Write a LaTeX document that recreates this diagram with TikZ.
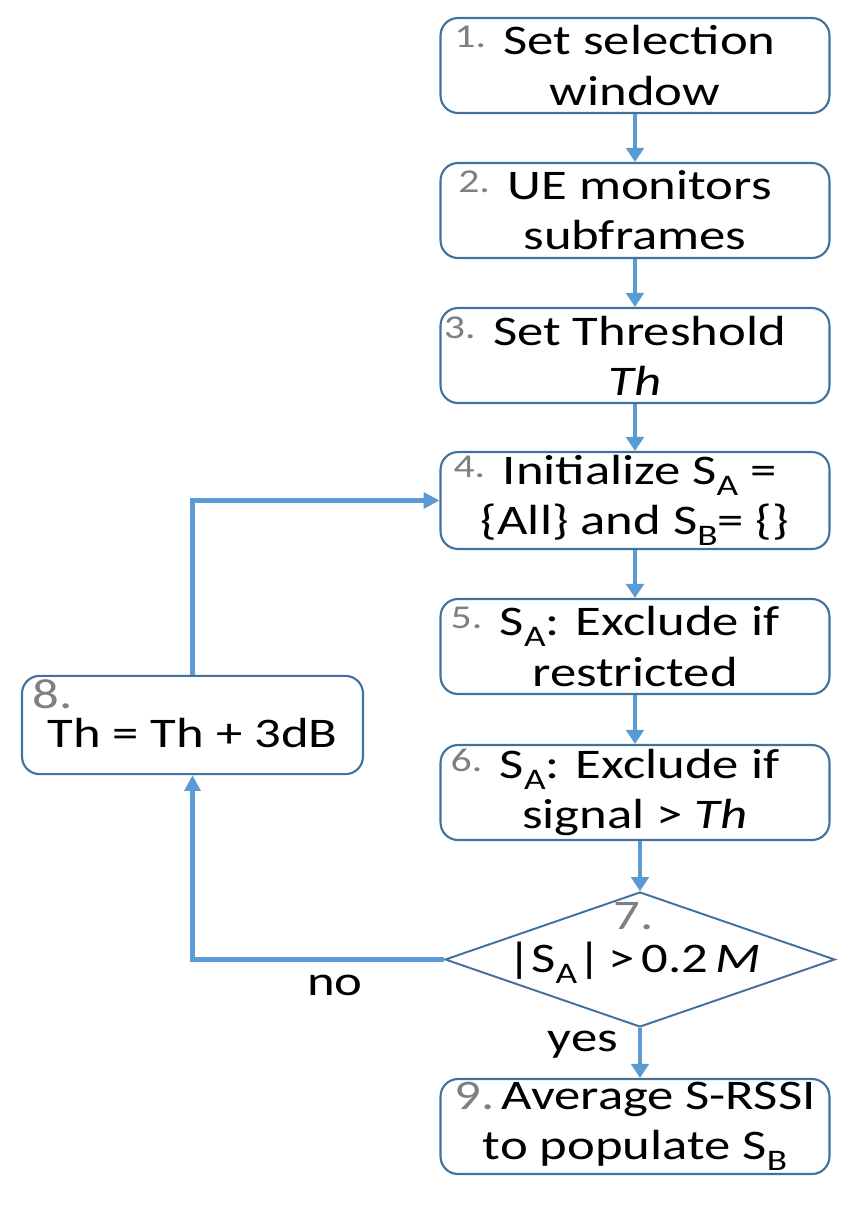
\documentclass[tikz,border=0pt]{standalone}
\usepackage{fontspec}
\setmainfont{Carlito}[FakeStretch=1.25]
\usetikzlibrary{arrows.meta,shapes.geometric}

\definecolor{boxblue}{HTML}{41719C}
\definecolor{arrowblue}{HTML}{5B9BD5}
\definecolor{numgray}{HTML}{7F7F7F}

\newcommand{\smallnum}[1]{\hspace*{-0.8cm}\raisebox{4pt}{\color{numgray}\fontsize{19}{19}\selectfont #1}\hspace{10pt}}
\newcommand{\bignum}[1]{{\color{numgray}#1}}
\newcommand{\sub}[1]{\raisebox{-6pt}{\fontsize{17}{17}\selectfont #1}}

\tikzset{
  flowbox/.style={draw=boxblue, line width=1.2pt, rounded corners=0.35cm,
    minimum width=7.78cm, minimum height=1.9cm, align=center, inner sep=2pt},
  decision/.style={draw=boxblue, line width=1.1pt, diamond,
    minimum width=7.8cm, minimum height=2.7cm, inner sep=0pt},
  flowarrow/.style={draw=arrowblue, line width=2.3pt,
    -{Triangle[width=10pt,length=8pt]}},
  loopline/.style={draw=arrowblue, line width=3pt,
    -{Triangle[width=9pt,length=9pt]}}
}

\begin{document}
\begin{tikzpicture}[x=0.02cm, y=-0.02cm, font=\fontsize{24}{28.5}\selectfont]
  \useasboundingbox (0,0) rectangle (861,1215);

  % main column
  \node[flowbox] at (635,65.5)   (window)   {\smallnum{1.}Set selection\\window};
  \node[flowbox] at (635,210.5)  (monitor)  {\smallnum{2.}UE monitors\\subframes};
  \node[flowbox] at (635,355.5)  (thresh)   {\smallnum{3.}Set Threshold\\\textit{Th}};
  \node[flowbox] at (635,500.5)  (init)     {\smallnum{4.}Initialize S\sub{A} =\\\{All\} and S\sub{B}= \{\}};
  \node[flowbox] at (635,646.5)  (restrict) {\smallnum{5.}S\sub{A}: Exclude if\\restricted};
  \node[flowbox] at (635,792.5)  (signal)   {\smallnum{6.}S\sub{A}: Exclude if\\signal > \textit{Th}};
  \node[decision] at (640,959.5) (check)    {};
  \node[align=center] at (634,943) (checktext) {\bignum{7.}\\[-4pt]|S\sub{A}|\,>\,0.2\,\textit{M}};
  \node[flowbox] at (635,1126.5) (average)  {\bignum{9.}\,Average S-RSSI\\to populate S\sub{B}};

  % side box
  \node[flowbox, minimum width=6.82cm, minimum height=1.92cm, align=left] at (192.5,725) (raise)
    {\hspace*{-0.3cm}\bignum{8.}\\[-6pt]Th = Th + 3dB\rule[-13pt]{0pt}{13pt}};

  % labels
  \node at (335,985)  (no)  {no};
  \node at (583,1045) (yes) {yes};

  % connectors
  \draw[flowarrow] (window)   -- (monitor);
  \draw[flowarrow] (monitor)  -- (thresh);
  \draw[flowarrow] (thresh)   -- (init);
  \draw[flowarrow] (init)     -- (restrict);
  \draw[flowarrow] (restrict) -- (signal);
  \draw[flowarrow] (signal.south -| check.north) -- (check.north);
  \draw[flowarrow] (check.south) -- (check.south |- average.north);
  \draw[loopline] (check.west) -| (raise.south);
  \draw[loopline] (raise.north) |- (init.west);
\end{tikzpicture}
\end{document}
